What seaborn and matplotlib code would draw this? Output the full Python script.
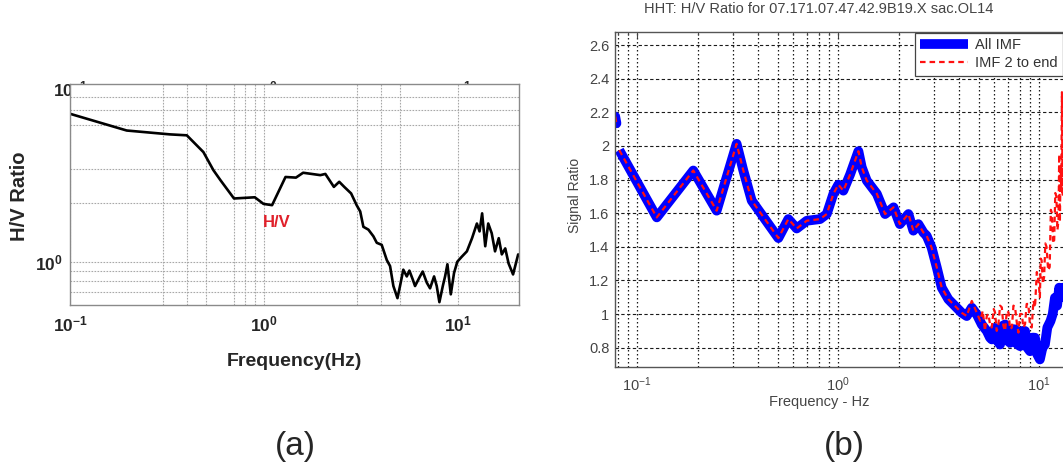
import matplotlib
matplotlib.use("Agg")
import matplotlib.pyplot as plt
import matplotlib.transforms as mtransforms
from matplotlib import font_manager as fm
from matplotlib.ticker import FixedLocator, NullFormatter, FixedFormatter
import seaborn as sns
import pandas as pd

# ---------------- data: panel (a) H/V ratio ----------------
hv_freq = [0.10, 0.196, 0.327, 0.40, 0.487, 0.548, 0.596, 0.70, 0.896, 0.993,
           1.10, 1.29, 1.46, 1.59, 1.95, 2.07, 2.29, 2.44, 2.59, 2.81,
           3.00, 3.13, 3.25, 3.45, 3.66, 3.81, 4.04, 4.29, 4.46, 4.64,
           4.87, 5.02, 5.22, 5.44, 5.61, 5.84, 6.00, 6.36, 6.57, 6.90,
           7.17, 7.52, 7.76, 8.01, 8.34, 8.57, 8.81, 9.17, 9.53, 9.91,
           10.44, 11.1, 11.8, 12.5, 12.9, 13.3, 13.8, 14.3, 14.9, 15.5,
           16.2, 16.8, 17.5, 18.2, 19.2, 20.4]
hv_ratio = [5.74, 4.71, 4.50, 4.45, 3.65, 2.95, 2.62, 2.11, 2.14, 1.98,
            1.95, 2.72, 2.70, 2.86, 2.78, 2.82, 2.42, 2.57, 2.42, 2.24,
            1.95, 1.81, 1.51, 1.46, 1.35, 1.25, 1.22, 1.02, 0.95, 0.75,
            0.65, 0.75, 0.91, 0.84, 0.90, 0.81, 0.75, 0.84, 0.89, 0.78,
            0.73, 0.84, 0.75, 0.62, 0.75, 0.84, 0.97, 0.68, 0.875, 1.00,
            1.06, 1.13, 1.32, 1.57, 1.43, 1.77, 1.20, 1.57, 1.40, 1.13,
            1.32, 1.09, 1.17, 0.98, 0.86, 1.09]

# ---------------- data: panel (b) HHT H/V ratio ----------------
stub_freq = [0.0779, 0.0790]
stub_ratio = [2.175, 2.135]

common_freq = [0.0816, 0.1254, 0.1905, 0.249, 0.313, 0.338, 0.372, 0.505, 0.566, 0.623,
               0.699, 0.814, 0.879, 0.948, 1.004, 1.063, 1.148, 1.263, 1.312, 1.39,
               1.56, 1.715, 1.889, 2.03, 2.24, 2.37, 2.51, 2.66, 2.76, 2.92,
               3.10, 3.28, 3.54, 3.82, 4.12, 4.37]
common_ratio = [1.975, 1.575, 1.854, 1.615, 2.013, 1.854, 1.675, 1.452, 1.565, 1.509,
                1.555, 1.565, 1.595, 1.715, 1.770, 1.734, 1.830, 1.969, 1.874, 1.794,
                1.715, 1.595, 1.635, 1.535, 1.595, 1.496, 1.535, 1.485, 1.466, 1.396,
                1.277, 1.157, 1.088, 1.048, 1.008, 0.988]

all_imf_tail_freq = [4.63, 4.90, 5.19, 5.50, 5.70, 5.82, 6.04, 6.20, 6.40, 6.60,
                     6.78, 7.00, 7.18, 7.40, 7.60, 7.80, 8.05, 8.30, 8.52, 8.75,
                     9.02, 9.30, 9.55, 9.80, 10.1, 10.4, 10.7, 11.0, 11.4, 11.7,
                     12.0, 12.3, 12.6, 12.9, 13.2, 14.2]
all_imf_tail_ratio = [1.038, 0.998, 0.938, 0.899, 0.860, 0.849, 0.918, 0.840, 0.819, 0.930,
                      0.938, 0.840, 0.829, 0.910, 0.909, 0.820, 0.809, 0.900, 0.899, 0.800,
                      0.779, 0.860, 0.859, 0.760, 0.730, 0.800, 0.819, 0.920, 0.958, 1.000,
                      1.097, 1.050, 1.157, 1.100, 1.157, 1.160]

imf2_tail_freq = [4.63, 4.90, 5.10, 5.25, 5.38, 5.50, 5.60, 5.72, 5.82, 5.95,
                  6.04, 6.16, 6.28, 6.40, 6.53, 6.65, 6.78, 6.92, 7.05, 7.18,
                  7.33, 7.46, 7.60, 7.75, 7.90, 8.05, 8.21, 8.36, 8.52, 8.68,
                  8.85, 9.02, 9.20, 9.38, 9.55, 9.75, 9.94, 10.1, 10.2, 10.3,
                  10.45, 10.6, 10.75, 10.9, 11.1, 11.3, 11.45, 11.6, 11.75, 11.9,
                  12.05, 12.2, 12.35, 12.5, 12.6, 12.7, 12.8, 12.9, 13.0, 13.1,
                  13.2, 13.6]
imf2_tail_ratio = [1.078, 1.008, 0.960, 1.020, 0.900, 0.990, 1.000, 0.930, 0.920, 1.030,
                   1.010, 0.900, 0.940, 1.050, 1.040, 0.930, 0.900, 1.020, 1.010, 0.910,
                   0.920, 1.050, 1.040, 0.950, 0.890, 1.000, 1.000, 0.920, 0.940, 1.060,
                   1.060, 0.930, 0.920, 1.080, 1.040, 1.250, 1.200, 1.100, 1.330, 1.320,
                   1.180, 1.220, 1.420, 1.400, 1.260, 1.280, 1.620, 1.600, 1.420, 1.440,
                   1.720, 1.700, 1.500, 1.560, 1.950, 1.550, 1.880, 1.750, 2.320, 1.700,
                   2.000, 2.100]

b_yticks = [0.8, 1.0, 1.2, 1.4, 1.6, 1.8, 2.0, 2.2, 2.4, 2.6]
b_yticklabels = ["0.8", "1", "1.2", "1.4", "1.6", "1.8", "2", "2.2", "2.4", "2.6"]
log_ticks = [0.1, 1, 10]
log_ticklabels = [r"$10^{-1}$", r"$10^{0}$", r"$10^{1}$"]

title_b = "HHT: H/V Ratio for 07.171.07.47.42.9B19.X sac.OL14"

# ---------------- style ----------------
sns.set_style("white")
names = {f.name for f in fm.fontManager.ttflist}
narrow = "Liberation Sans Narrow" if "Liberation Sans Narrow" in names else "Liberation Sans"
plt.rcParams["font.family"] = ["Liberation Sans", "DejaVu Sans"]
plt.rcParams["mathtext.default"] = "regular"

W, H = 1063, 466
fig = plt.figure(figsize=(W / 100, H / 100), dpi=100)
fig.patch.set_facecolor("white")

# ================= panel (a) =================
ax_a = fig.add_axes([70 / W, 1 - 304.5 / H, 449 / W, 220.5 / H])
ax_a.set_xscale("log")
ax_a.set_yscale("log")
sns.lineplot(x=hv_freq, y=hv_ratio, color="black", linewidth=1.9,
             estimator=None, sort=False, ax=ax_a)
ax_a.set_xlim(0.1, 20.6)
ax_a.set_ylim(0.603, 8.16)

ax_a.xaxis.set_major_locator(FixedLocator(log_ticks))
ax_a.xaxis.set_major_formatter(FixedFormatter(log_ticklabels))
ax_a.xaxis.set_minor_locator(FixedLocator([0.3, 0.4, 0.5, 0.7, 0.8, 0.9, 3, 4, 5]))
ax_a.xaxis.set_minor_formatter(NullFormatter())
ax_a.yaxis.set_major_locator(FixedLocator([1]))
ax_a.yaxis.set_major_formatter(FixedFormatter([r"$10^{0}$"]))
ax_a.yaxis.set_minor_locator(FixedLocator([0.7, 0.8, 0.9, 2, 3, 5, 6, 7]))
ax_a.yaxis.set_minor_formatter(NullFormatter())
ax_a.grid(True, which="both", color="#a8a8a8", linestyle=(0, (1.5, 1.2)), linewidth=0.8)
ax_a.tick_params(which="both", direction="in", color="#888888", length=3, width=0.8)
ax_a.tick_params(axis="x", which="major", pad=7, labelsize=12.5)
ax_a.tick_params(axis="y", which="major", pad=5, labelsize=12.5)
for lab in ax_a.get_xticklabels() + ax_a.get_yticklabels():
    lab.set_fontweight("bold")
    lab.set_family(narrow)
for s in ax_a.spines.values():
    s.set_color("#8a8a8a")
    s.set_linewidth(1.0)

ax_a.set_xlabel("Frequency(Hz)", fontsize=14, fontweight="bold", family=narrow)
ax_a.xaxis.label.set_va("center")
ax_a.xaxis.set_label_coords(0.5, (304.5 - 362) / 220.5)
ax_a.set_ylabel("H/V Ratio", fontsize=14.5, fontweight="bold", family=narrow)
ax_a.yaxis.label.set_va("center")
ax_a.yaxis.set_label_coords((20 - 70) / 449, (304.5 - 196) / 220.5)

ax_a.text(1.16, 1.58, "H/V", color="#e0202a", fontsize=12, fontweight="bold",
          family=narrow, ha="center", va="center")

# stray top tick labels partly hidden behind the axes
top_tr = mtransforms.blended_transform_factory(ax_a.transData, fig.transFigure)
for xv, lab in zip(log_ticks, log_ticklabels):
    fig.text(xv, 1 - 96 / H, lab, transform=top_tr, ha="center", va="baseline",
             fontsize=12.5, fontweight="bold", family=narrow, zorder=-1)

fig.text(295 / W, 1 - 447 / H, "(a)", ha="center", va="center", fontsize=24)

# ================= panel (b) =================
ax_b = fig.add_axes([615 / W, 1 - 367 / H, 455 / W, 335 / H])
ax_b.set_xscale("log")

blue_df = pd.DataFrame({"freq": common_freq + all_imf_tail_freq,
                        "ratio": common_ratio + all_imf_tail_ratio})
red_df = pd.DataFrame({"freq": common_freq + imf2_tail_freq,
                       "ratio": common_ratio + imf2_tail_ratio})

sns.lineplot(x=stub_freq, y=stub_ratio, color="#0000ff", linewidth=7,
             estimator=None, sort=False, ax=ax_b)
sns.lineplot(data=blue_df, x="freq", y="ratio", color="#0000ff", linewidth=7,
             estimator=None, sort=False, ax=ax_b, label="All IMF",
             solid_joinstyle="round", solid_capstyle="butt")
sns.lineplot(data=red_df, x="freq", y="ratio", color="#ff1010", linewidth=1.6,
             linestyle=(0, (2.5, 1.8)), estimator=None, sort=False, ax=ax_b,
             label="IMF 2 to end")
sns.lineplot(x=stub_freq, y=stub_ratio, color="#ff1010", linewidth=1.6,
             linestyle=(0, (2.5, 1.8)), estimator=None, sort=False, ax=ax_b)

ax_b.set_xlim(0.0777, 14.26)
ax_b.set_ylim(0.685, 2.678)

ax_b.xaxis.set_major_locator(FixedLocator(log_ticks))
ax_b.xaxis.set_major_formatter(FixedFormatter(log_ticklabels))
minor_b = [m * d for d in (0.01, 0.1, 1, 10) for m in range(2, 10)]
ax_b.xaxis.set_minor_locator(FixedLocator(minor_b))
ax_b.xaxis.set_minor_formatter(NullFormatter())
ax_b.yaxis.set_major_locator(FixedLocator(b_yticks))
ax_b.yaxis.set_major_formatter(FixedFormatter(b_yticklabels))

ax_b.grid(True, axis="x", which="both", color="#1a1a1a",
          linestyle=(0, (1.2, 2.0)), linewidth=0.9)
ax_b.grid(True, axis="y", which="major", color="#1a1a1a",
          linestyle=(0, (3.0, 2.2)), linewidth=0.8)
ax_b.set_axisbelow(True)
ax_b.tick_params(which="both", direction="in", top=True, right=False,
                 color="#444444", width=0.8)
ax_b.tick_params(which="major", length=4)
ax_b.tick_params(which="minor", length=2.5)
ax_b.tick_params(axis="both", which="major", labelsize=10.5, labelcolor="#444444")
ax_b.tick_params(axis="x", which="major", pad=6)
ax_b.tick_params(axis="y", which="major", pad=4)
for s in ax_b.spines.values():
    s.set_color("#555555")
    s.set_linewidth(1.0)

ax_b.set_xlabel("Frequency - Hz", fontsize=10.5, color="#444444")
ax_b.xaxis.label.set_va("center")
ax_b.xaxis.set_label_coords((819 - 615) / 455, (367 - 402) / 335)
ax_b.set_ylabel("Signal Ratio", fontsize=10, color="#444444")
ax_b.yaxis.label.set_va("center")
ax_b.yaxis.set_label_coords((575 - 615) / 455, (367 - 195) / 335)
ax_b.set_title(title_b, fontsize=10.5, color="#444444", x=(819 - 615) / 455,
               y=(367 - 17) / 335, va="center")

leg = ax_b.legend(loc="upper right", bbox_to_anchor=(1.0, 1 - 33 / H),
                  bbox_transform=fig.transFigure, borderaxespad=0,
                  fontsize=10.5, handlelength=3.3, frameon=True, fancybox=False,
                  framealpha=1, edgecolor="#444444", borderpad=0.35,
                  labelspacing=0.3, handletextpad=0.5)
leg.get_frame().set_linewidth(0.9)
for t in leg.get_texts():
    t.set_color("#333333")

fig.text(844 / W, 1 - 447 / H, "(b)", ha="center", va="center", fontsize=24)

fig.savefig("out.png", dpi=100, facecolor="white")
